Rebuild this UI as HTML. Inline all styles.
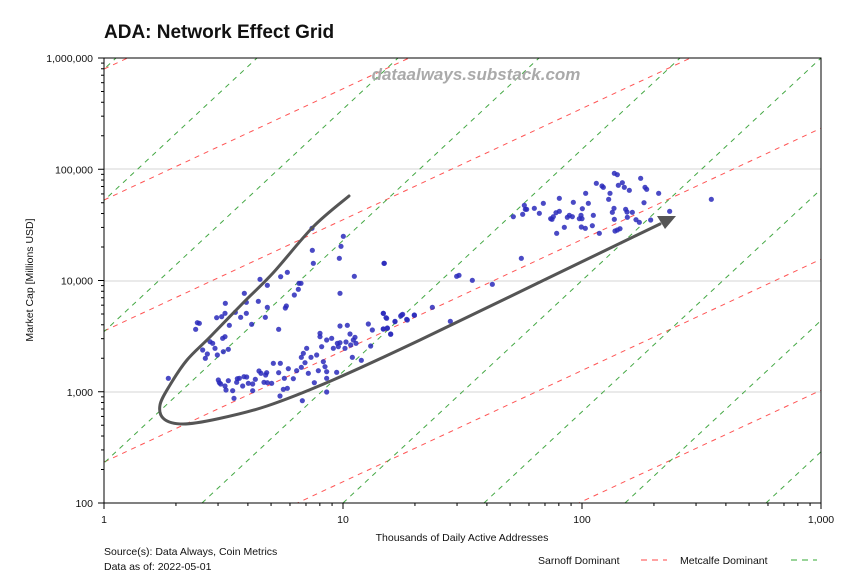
<!DOCTYPE html>
<html><head><meta charset="utf-8"><style>
html,body{margin:0;padding:0;background:#fff;overflow:hidden;width:864px;height:576px;}
svg{display:block;}
svg text{font-family:"Liberation Sans",sans-serif;}
</style></head><body>
<svg id="s" width="864" height="576" xmlns="http://www.w3.org/2000/svg">
<defs><clipPath id="c"><rect x="104" y="58" width="717" height="445"/></clipPath></defs>
<rect width="864" height="576" fill="#fff"/>
<g id="grid"></g>
<g id="lines" clip-path="url(#c)"></g>
<text x="476" y="80" text-anchor="middle" font-size="17" font-weight="bold" font-style="italic" fill="#aaa">dataalways.substack.com</text>
<g id="pts"></g>
<path id="curve" d="" fill="none" stroke="#555" stroke-width="3" stroke-linejoin="round" stroke-linecap="round"/>
<polygon points="657,216 676,216 665,229" fill="#555"/>
<rect x="104" y="58" width="717" height="445" fill="none" stroke="#000" stroke-width="1"/>
<g id="ticks"></g>
<text x="104" y="38" font-size="19" font-weight="bold" fill="#111">ADA: Network Effect Grid</text>
<text x="462" y="541" text-anchor="middle" font-size="10.5" fill="#111">Thousands of Daily Active Addresses</text>
<text transform="translate(33,280) rotate(-90)" text-anchor="middle" font-size="10.5" fill="#111">Market Cap [Millions USD]</text>
<text x="104" y="555" font-size="10.5" fill="#111">Source(s): Data Always, Coin Metrics</text>
<text x="104" y="570" font-size="10.5" fill="#111">Data as of: 2022-05-01</text>
<text x="538" y="564" font-size="10.5" fill="#111">Sarnoff Dominant</text>
<line x1="641" y1="560" x2="667" y2="560" stroke="#f44" stroke-dasharray="6,5"/>
<text x="680" y="564" font-size="10.5" fill="#111">Metcalfe Dominant</text>
<line x1="791" y1="560" x2="817" y2="560" stroke="#3a3" stroke-dasharray="6,5"/>
</svg>
<script>
var NS="http://www.w3.org/2000/svg";
function el(p,t,a,txt){var e=document.createElementNS(NS,t);for(var k in a)e.setAttribute(k,a[k]);if(txt)e.textContent=txt;document.getElementById(p).appendChild(e);}
[169,281,392].forEach(function(y){el("grid","line",{x1:104,x2:821,y1:y,y2:y,stroke:"#d4d4d4"});});
for(var k=-6;k<10;k++){var y0=69+131*k;el("lines","line",{x1:104,y1:y0,x2:821,y2:y0-0.4655*717,stroke:"#f55","stroke-width":1,"stroke-dasharray":"5,5"});}
for(var k=-8;k<8;k++){var xb=202+141*k;el("lines","line",{x1:xb,y1:503,x2:xb+445/0.931,y2:58,stroke:"#44a844","stroke-width":1,"stroke-dasharray":"5,5"});}
var yl=["1,000,000","100,000","10,000","1,000","100"];
for(var i=0;i<5;i++){var y=58+111.25*i;el("ticks","line",{x1:98,x2:104,y1:y,y2:y,stroke:"#000"});el("ticks","text",{x:93,y:y+4,"text-anchor":"end","font-size":10.5,fill:"#111"},yl[i]);
 if(i<4)for(var m=2;m<10;m++){var yy=y+111.25-111.25*Math.log10(m);el("ticks","line",{x1:101,x2:104,y1:yy,y2:yy,stroke:"#000"});}}
var xl=["1","10","100","1,000"];
for(var i=0;i<4;i++){var x=104+239*i;el("ticks","line",{x1:x,x2:x,y1:503,y2:509,stroke:"#000"});el("ticks","text",{x:x,y:523,"text-anchor":"middle","font-size":10.5,fill:"#111"},xl[i]);
 if(i<3)for(var m=2;m<10;m++){var xx=x+239*Math.log10(m);el("ticks","line",{x1:xx,x2:xx,y1:503,y2:506,stroke:"#000"});}}
var cp=[[349,196],[313,227],[273,273],[243,303],[210,337],[187,360],[170,385],[160,405],[164,419],[183,424],[217,419],[267,406],[333,380],[420,340],[540,282],[660,224]];
var d="M"+cp[0][0]+","+cp[0][1];
for(var i=0;i<cp.length-1;i++){var p0=cp[Math.max(0,i-1)],p1=cp[i],p2=cp[i+1],p3=cp[Math.min(cp.length-1,i+2)];
 var c1x=p1[0]+(p2[0]-p0[0])/6,c1y=p1[1]+(p2[1]-p0[1])/6,c2x=p2[0]-(p3[0]-p1[0])/6,c2y=p2[1]-(p3[1]-p1[1])/6;
 d+=" C"+c1x+","+c1y+" "+c2x+","+c2y+" "+p2[0]+","+p2[1];}
document.getElementById("curve").setAttribute("d",d);
var z1=[[205,595],[287,448],[292,428],[298,430],[308,510],[316,535],[322,522],[330,485],[338,490],[345,505],[352,525],[350,413],[365,410],[375,400],[376,370],[368,475],[375,470],[370,515],[385,508],[388,436],[406,397],[422,412],[433,340],[439,367],[439,400],[455,433],[475,364],[480,298],[496,412],[502,316],[502,382],[536,448],[542,290],[556,384],[559,378],[562,277],[583,345],[595,328],[597,310],[603,310],[636,145],[637,211],[640,250],[718,235],[723,199],[730,169],[720,340],[763,289],[853,250],
[355,600],[358,608],[362,612],[375,618],[378,630],[385,602],[398,632],[402,655],[412,596],[410,607],[418,595],[428,618],[432,590],[440,591],[445,610],[458,612],[458,632],[466,598],[477,573],[483,580],[492,607],[497,585],[500,578],[502,608],[515,610],[520,550],[536,578],[541,550],[540,648],[550,628],[553,595],[562,625],[565,566],[580,596],[590,572],[604,532],[604,562],[607,662],[610,520],[615,548],[620,505],[625,580],[633,532],[643,608],[650,525],[655,572],[660,460],[660,470],[665,500],[670,545],[675,560],[680,480],[680,575],[680,595],[680,636],[695,475],[700,505],[710,577],[712,490],[715,500],[720,438],[720,488],[735,505],[738,486],[742,436],[750,462],[752,495],[757,532],[760,480],[765,472],[768,490],[784,541],[805,432],[812,498],[817,450],[850,400],[850,447],[858,413],[862,444],[872,463],[885,425],[905,405],[920,418],[943,405]];
var z2=[[12,310],[10,460],[20,475],[10,507],[22,505],[32,522],[45,484],[62,468],[68,463],[82,480],[103,466],[157,442],[211,484],[230,349],[237,346],[277,361],[337,373],[424,295],[400,170],[428,163],[433,136],[436,148],[440,148],[463,145],[478,160],[490,130],[512,176],[516,178],[520,170],[528,158],[538,154],[538,115],[530,220],[553,202],[562,172],[568,166],[577,170],[580,127],[598,176],[603,166],[606,176],[607,146],[604,201],[616,205],[617,100],[625,130],[640,166],[637,197],[649,70],[658,220],[666,78],[670,82],[686,118],[690,100],[697,157],[702,145],[703,178],[703,40],[712,44],[705,213],[712,210],[720,206],[715,76],[727,68],[733,82],[737,148],[741,156],[742,172],[748,91],[757,157],[768,179],[778,187],[782,55],[792,128],[795,82],[800,88],[812,180],[836,100],[869,154],[994,118]];
z1.forEach(function(p){el("pts","circle",{cx:100+p[0]/3,cy:180+p[1]/3,r:2.6,fill:"#2a2abb","fill-opacity":0.85});});
z2.forEach(function(p){el("pts","circle",{cx:380+p[0]/3,cy:160+p[1]/3,r:2.6,fill:"#2a2abb","fill-opacity":0.85});});
</script>
</body></html>
